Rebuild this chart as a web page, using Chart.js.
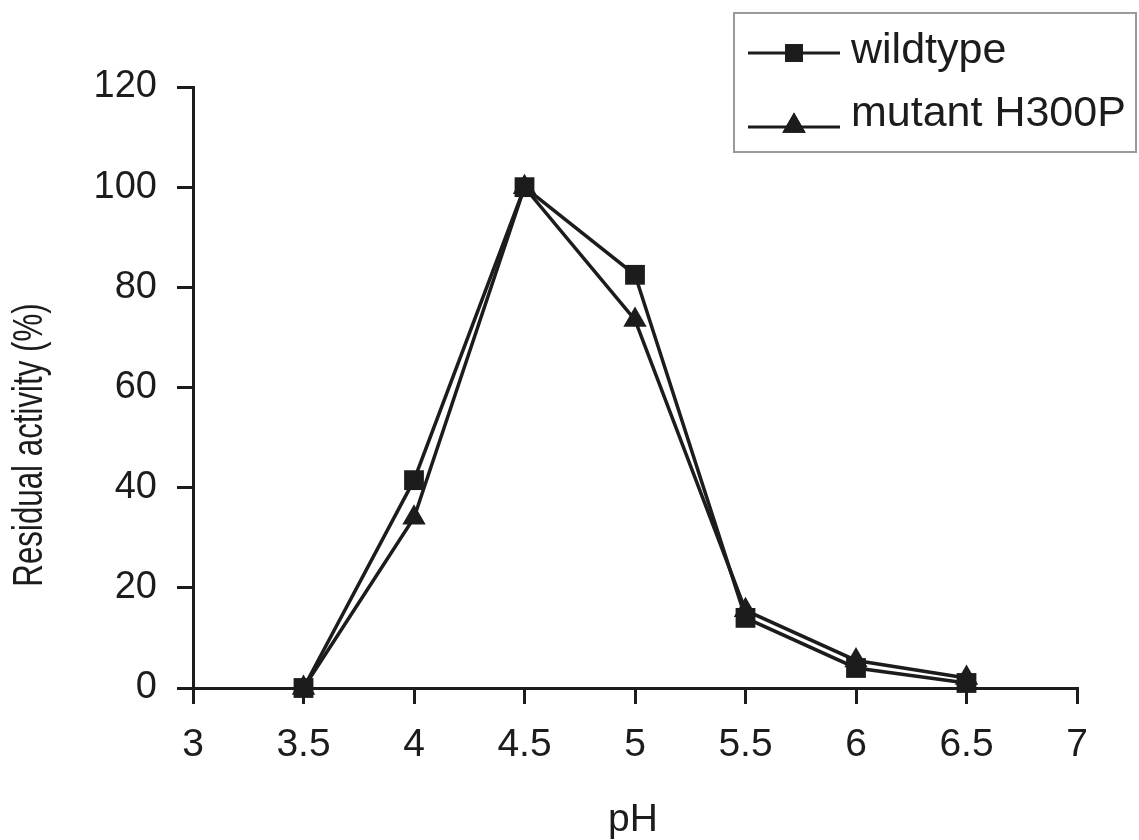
<!DOCTYPE html>
<html>
<head>
<meta charset="utf-8">
<title>Residual activity vs pH</title>
<script src="https://cdn.jsdelivr.net/npm/chart.js@4.4.1/dist/chart.umd.min.js"></script>
<style>
  html, body { margin: 0; padding: 0; background: #ffffff; }
  #wrap { width: 1139px; height: 840px; position: relative; }
</style>
</head>
<body>
<div id="wrap"><canvas id="chart"></canvas></div>
<script>
// pH values at which residual activity was measured
const phLevels = [3.5, 4, 4.5, 5, 5.5, 6, 6.5];
// residual activity (%) for each enzyme
const wildtypeActivity = [0, 41.5, 100, 82.5, 14, 4, 1];
const mutantActivity = [0, 34, 100, 73.5, 15.5, 5.5, 2];
// axis tick values
const xTickValues = [3, 3.5, 4, 4.5, 5, 5.5, 6, 6.5, 7];
const yTickValues = [0, 20, 40, 60, 80, 100, 120];
// labels
const seriesNames = ['wildtype', 'mutant H300P'];
const xTitle = 'pH';
const yTitle = 'Residual activity (%)';

const INK = '#1c1c1c';
const FONT = '"Liberation Sans", Arial, sans-serif';

const toPoints = (ys) => phLevels.map((x, i) => ({ x: x, y: ys[i] }));

// axis titles and the boxed legend
const decorations = {
  id: 'decorations',
  afterDraw(chart) {
    const ctx = chart.ctx;
    ctx.save();
    ctx.fillStyle = INK;

    // y-axis title (narrow lettering)
    ctx.font = '42px ' + FONT;
    ctx.textAlign = 'center';
    ctx.textBaseline = 'middle';
    ctx.translate(30, 445);
    ctx.rotate(-Math.PI / 2);
    ctx.scale(0.745, 1);
    ctx.fillText(yTitle, 0, 0);
    ctx.setTransform(1, 0, 0, 1, 0, 0);

    // x-axis title
    ctx.font = '39px ' + FONT;
    ctx.textAlign = 'center';
    ctx.textBaseline = 'alphabetic';
    ctx.fillText(xTitle, 633, 831);

    // legend frame
    ctx.strokeStyle = '#9a9a9a';
    ctx.lineWidth = 2;
    ctx.strokeRect(734, 13, 402, 139);

    const rows = [
      { ds: chart.data.datasets[0], y: 53, textY: 63 },
      { ds: chart.data.datasets[1], y: 127, textY: 126 }
    ];
    rows.forEach((row, i) => {
      ctx.strokeStyle = row.ds.borderColor;
      ctx.lineWidth = 3;
      ctx.beginPath();
      ctx.moveTo(748, row.y);
      ctx.lineTo(840, row.y);
      ctx.stroke();
      Chart.helpers.drawPoint(ctx, {
        pointStyle: row.ds.pointStyle,
        radius: i === 0 ? 12.5 : 13.5,
        rotation: 0,
        borderWidth: 0
      }, 794, i === 0 ? row.y : row.y - 1);
      ctx.fillStyle = row.ds.pointBackgroundColor;
      ctx.fill();
      ctx.fillStyle = INK;
      ctx.font = '43px ' + FONT;
      ctx.textAlign = 'left';
      ctx.textBaseline = 'alphabetic';
      ctx.fillText(seriesNames[i], 851, row.textY);
    });
    ctx.restore();
  }
};

const axisStyle = {
  grid: { display: true, drawOnChartArea: false, drawTicks: true, tickLength: 16, color: INK, lineWidth: 3 },
  border: { display: true, color: INK, width: 3 }
};

new Chart(document.getElementById('chart'), {
  type: 'line',
  data: {
    datasets: [
      {
        label: seriesNames[0],
        data: toPoints(wildtypeActivity),
        borderColor: INK,
        backgroundColor: INK,
        pointBackgroundColor: INK,
        pointBorderColor: INK,
        pointBorderWidth: 0,
        borderWidth: 3.5,
        pointStyle: 'rect',
        pointRadius: 14,
        pointHoverRadius: 14,
        tension: 0,
        fill: false
      },
      {
        label: seriesNames[1],
        data: toPoints(mutantActivity),
        borderColor: INK,
        backgroundColor: INK,
        pointBackgroundColor: INK,
        pointBorderColor: INK,
        pointBorderWidth: 0,
        borderWidth: 3.5,
        pointStyle: 'triangle',
        pointRadius: 13.5,
        pointHoverRadius: 13.5,
        tension: 0,
        fill: false
      }
    ]
  },
  options: {
    responsive: true,
    maintainAspectRatio: false,
    devicePixelRatio: 1,
    animation: false,
    clip: false,
    layout: { padding: { top: 87, right: 62, left: 0, bottom: 0 } },
    plugins: {
      legend: { display: false },
      tooltip: { enabled: false },
      title: { display: false }
    },
    scales: {
      x: Object.assign({
        type: 'linear',
        min: 3,
        max: 7,
        afterBuildTicks: (s) => { s.ticks = xTickValues.map(v => ({ value: v })); },
        afterFit: (s) => { s.height = 152; },
        ticks: {
          autoSkip: false,
          maxRotation: 0,
          padding: 18,
          color: INK,
          font: { family: FONT, size: 39 },
          callback: (v) => String(v)
        }
      }, axisStyle),
      y: Object.assign({
        type: 'linear',
        min: 0,
        max: 120,
        afterBuildTicks: (s) => { s.ticks = yTickValues.map(v => ({ value: v })); },
        afterFit: (s) => { s.width = 193; },
        ticks: {
          padding: 20,
          color: INK,
          font: { family: FONT, size: 38 },
          callback: (v) => String(v)
        }
      }, axisStyle)
    }
  },
  plugins: [decorations]
});
</script>
</body>
</html>
